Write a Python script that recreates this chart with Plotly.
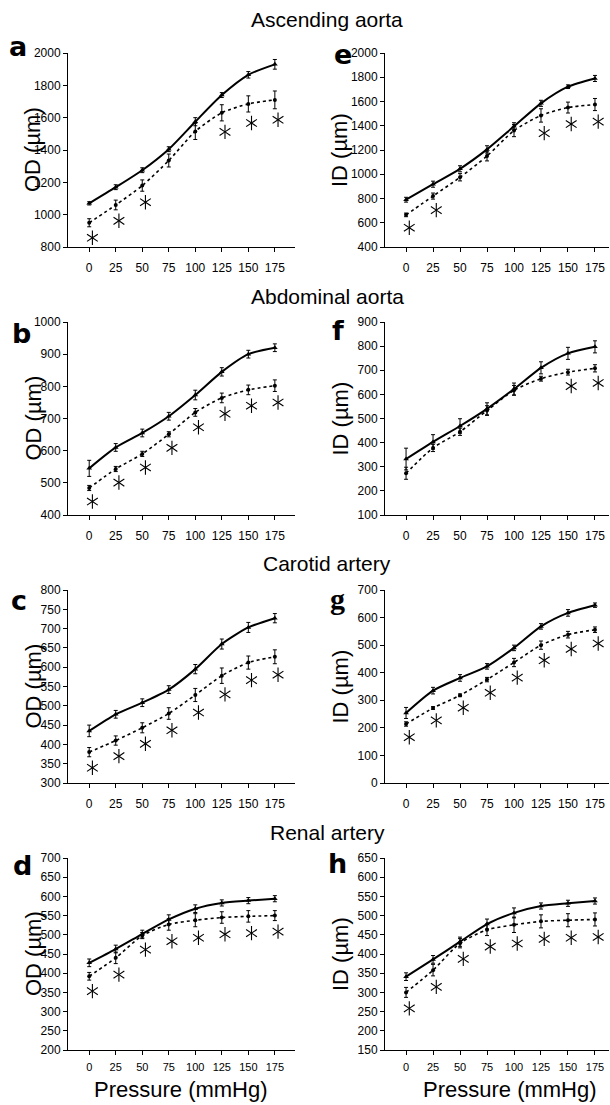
import plotly.graph_objects as go

W, H = 610, 1105

pressure = [0, 25, 50, 75, 100, 125, 150, 175]
x_ticks = [0, 25, 50, 75, 100, 125, 150, 175]

# Panel a: Ascending aorta OD
a_ctrl = [1070, 1170, 1275, 1405, 1575, 1740, 1865, 1930]
a_ctrl_err = [10, 15, 15, 15, 25, 15, 20, 30]
a_ko = [950, 1060, 1180, 1335, 1515, 1630, 1685, 1710]
a_ko_err = [25, 30, 35, 40, 50, 50, 50, 55]
a_sig = [1, 1, 1, 0, 0, 1, 1, 1]

# Panel e: Ascending aorta ID
e_ctrl = [790, 918, 1045, 1205, 1395, 1585, 1722, 1790]
e_ctrl_err = [20, 25, 25, 30, 30, 25, 15, 25]
e_ko = [665, 820, 975, 1150, 1360, 1485, 1550, 1575]
e_ko_err = [15, 25, 30, 40, 50, 55, 45, 50]
e_sig = [1, 1, 0, 0, 0, 1, 1, 1]

# Panel b: Abdominal aorta OD
b_ctrl = [545, 610, 655, 707, 773, 845, 900, 920]
b_ctrl_err = [25, 12, 12, 12, 15, 13, 12, 12]
b_ko = [484, 543, 590, 651, 719, 764, 789, 802]
b_ko_err = [8, 8, 8, 8, 12, 15, 15, 18]
b_sig = [1, 1, 1, 1, 1, 1, 1, 1]

# Panel f: Abdominal aorta ID
f_ctrl = [332, 403, 469, 540, 622, 710, 770, 797]
f_ctrl_err = [45, 30, 30, 25, 25, 25, 25, 25]
f_ko = [273, 378, 445, 533, 617, 665, 692, 708]
f_ko_err = [25, 15, 15, 20, 20, 10, 12, 15]
f_sig = [0, 0, 0, 0, 0, 0, 1, 1]

# Panel c: Carotid artery OD
c_ctrl = [435, 478, 508, 542, 595, 660, 703, 727]
c_ctrl_err = [15, 10, 10, 10, 12, 13, 13, 12]
c_ko = [380, 410, 443, 480, 528, 578, 612, 627]
c_ko_err = [12, 12, 13, 15, 17, 20, 17, 18]
c_sig = [1, 1, 1, 1, 1, 1, 1, 1]

# Panel g: Carotid artery ID
g_ctrl = [254, 335, 381, 423, 490, 568, 617, 645]
g_ctrl_err = [20, 12, 12, 10, 10, 10, 12, 8]
g_ko = [214, 272, 318, 375, 437, 500, 538, 556]
g_ko_err = [8, 5, 5, 8, 15, 15, 12, 10]
g_sig = [1, 1, 1, 1, 1, 1, 1, 1]

# Panel d: Renal artery OD
d_ctrl = [427, 463, 502, 540, 568, 583, 589, 594]
d_ctrl_err = [10, 10, 10, 12, 10, 8, 8, 8]
d_ko = [392, 440, 498, 527, 538, 545, 548, 550]
d_ko_err = [10, 15, 8, 15, 17, 15, 15, 13]
d_sig = [1, 1, 1, 1, 1, 1, 1, 1]

# Panel h: Renal artery ID
h_ctrl = [341, 386, 432, 478, 507, 525, 532, 538]
h_ctrl_err = [10, 10, 12, 13, 13, 8, 8, 8]
h_ko = [300, 358, 428, 463, 476, 485, 488, 490]
h_ko_err = [13, 15, 12, 15, 20, 17, 17, 17]
h_sig = [1, 1, 1, 1, 1, 1, 1, 1]

section_titles = ["Ascending aorta", "Abdominal aorta", "Carotid artery", "Renal artery"]

panels = [
    # letter, row, col, ctrl, ctrl_err, ko, ko_err, sig, yrange, dtick, ytitle
    ("a", 0, 0, a_ctrl, a_ctrl_err, a_ko, a_ko_err, a_sig, [800, 2000], 200, "OD (µm)"),
    ("e", 0, 1, e_ctrl, e_ctrl_err, e_ko, e_ko_err, e_sig, [400, 2000], 200, "ID (µm)"),
    ("b", 1, 0, b_ctrl, b_ctrl_err, b_ko, b_ko_err, b_sig, [400, 1000], 100, "OD (µm)"),
    ("f", 1, 1, f_ctrl, f_ctrl_err, f_ko, f_ko_err, f_sig, [100, 900], 100, "ID (µm)"),
    ("c", 2, 0, c_ctrl, c_ctrl_err, c_ko, c_ko_err, c_sig, [300, 800], 50, "OD (µm)"),
    ("g", 2, 1, g_ctrl, g_ctrl_err, g_ko, g_ko_err, g_sig, [0, 700], 100, "ID (µm)"),
    ("d", 3, 0, d_ctrl, d_ctrl_err, d_ko, d_ko_err, d_sig, [200, 700], 50, "OD (µm)"),
    ("h", 3, 1, h_ctrl, h_ctrl_err, h_ko, h_ko_err, h_sig, [150, 650], 50, "ID (µm)"),
]

# layout geometry in pixels
row_top = [53, 322, 590, 858]
row_bot = [247, 515, 783, 1050]
col_left = [68, 385]
col_right = [295, 609]
col_xrange = [[-20, 194], [-19.5, 188]]
ytitle_x = [33, 340]
letter_pos = {"a": (18, 47), "e": (343, 54), "b": (21, 333), "f": (338, 330),
              "c": (19, 600), "g": (337, 598), "d": (22, 865), "h": (337, 863)}
section_y = [19, 297, 563, 832]
section_x = 327
STAR_GAP_PX = 11  # gap between lower error-bar end and asterisk centre

FONT = "Liberation Sans, Arial, Helvetica, sans-serif"

def px(x):
    return x / W

def py(y):
    return 1 - y / H

fig = go.Figure()
annotations = []
layout = {}

for i, (letter, r, c, ctrl, ctrl_err, ko, ko_err, sig, yr, dt, ytitle) in enumerate(panels):
    n = i + 1
    xa = "x" if n == 1 else f"x{n}"
    ya = "y" if n == 1 else f"y{n}"
    xkey = "xaxis" if n == 1 else f"xaxis{n}"
    ykey = "yaxis" if n == 1 else f"yaxis{n}"
    small = r == 3
    layout[xkey] = dict(
        domain=[px(col_left[c]), px(col_right[c])], anchor=ya,
        range=col_xrange[c], tickvals=x_ticks, ticktext=[str(v) for v in x_ticks],
        showline=True, linecolor="black", linewidth=1, ticks="outside", ticklen=4,
        tickcolor="black", showgrid=False, zeroline=False, automargin=False,
        tickfont=dict(family=FONT, size=11 if small else 12, color="black"),
        ticklabelstandoff=3 if small else 6,
    )
    layout[ykey] = dict(
        domain=[py(row_bot[r]), py(row_top[r])], anchor=xa,
        range=yr, dtick=dt, tick0=yr[0], automargin=False,
        showline=True, linecolor="black", linewidth=1, ticks="outside", ticklen=4,
        tickcolor="black", showgrid=False, zeroline=False,
        tickfont=dict(family=FONT, size=12, color="black"),
    )
    fig.add_trace(go.Scatter(
        x=pressure, y=ko, mode="lines+markers", xaxis=xa, yaxis=ya,
        line=dict(color="black", width=1.6, dash="dot", shape="spline", smoothing=0.7),
        marker=dict(symbol="circle", size=4, color="black"),
        error_y=dict(type="data", array=ko_err, color="black", thickness=1, width=2),
        showlegend=False,
    ))
    fig.add_trace(go.Scatter(
        x=pressure, y=ctrl, mode="lines+markers", xaxis=xa, yaxis=ya,
        line=dict(color="black", width=2, shape="spline", smoothing=0.7),
        marker=dict(symbol="triangle-up", size=5, color="black"),
        error_y=dict(type="data", array=ctrl_err, color="black", thickness=1, width=2),
        showlegend=False,
    ))
    # significance asterisks: built from two Y-shaped markers (6-arm asterisk)
    plot_h = row_bot[r] - row_top[r]
    gap = STAR_GAP_PX * (yr[1] - yr[0]) / plot_h
    sx = [xv + 3 for xv, s in zip(pressure, sig) if s]
    sy = [m - e - gap for m, e, s in zip(ko, ko_err, sig) if s]
    for sym in ("y-up", "y-down"):
        fig.add_trace(go.Scatter(
            x=sx, y=sy, mode="markers", xaxis=xa, yaxis=ya, hoverinfo="skip",
            marker=dict(symbol=sym, size=9, color="black",
                        line=dict(color="black", width=1.1)),
            showlegend=False,
        ))
    # y-axis title
    annotations.append(dict(
        x=px(ytitle_x[c]), y=py((row_top[r] + row_bot[r]) / 2), xref="paper", yref="paper",
        text=ytitle, textangle=-90, showarrow=False, xanchor="center", yanchor="middle",
        font=dict(family=FONT, size=22, color="black"),
    ))
    # panel letter
    lx, ly = letter_pos[letter]
    annotations.append(dict(
        x=px(lx), y=py(ly), xref="paper", yref="paper", text=f"<b>{letter}</b>",
        showarrow=False, xanchor="center", yanchor="middle",
        font=dict(family=("Liberation Serif, serif" if letter == "g" else "DejaVu Sans, sans-serif"),
                  size=30 if letter == "g" else 27, color="black"),
    ))

for r, t in enumerate(section_titles):
    annotations.append(dict(
        x=px(section_x), y=py(section_y[r]), xref="paper", yref="paper", text=t,
        showarrow=False, xanchor="center", yanchor="middle",
        font=dict(family=FONT, size=21, color="black"),
    ))

for c, xc in enumerate([181, 510]):
    annotations.append(dict(
        x=px(xc), y=py(1089), xref="paper", yref="paper", text="Pressure (mmHg)",
        showarrow=False, xanchor="center", yanchor="middle",
        font=dict(family=FONT, size=22, color="black"),
    ))

fig.update_layout(
    width=W, height=H, margin=dict(l=0, r=0, t=0, b=0, autoexpand=False),
    paper_bgcolor="white", plot_bgcolor="white",
    annotations=annotations, showlegend=False, **layout,
)

fig.write_html(
    "out.html",
    config={"displayModeBar": False},
    post_script="document.body.style.margin='0';document.body.style.padding='0';"
                "document.body.style.overflow='hidden';",
)
